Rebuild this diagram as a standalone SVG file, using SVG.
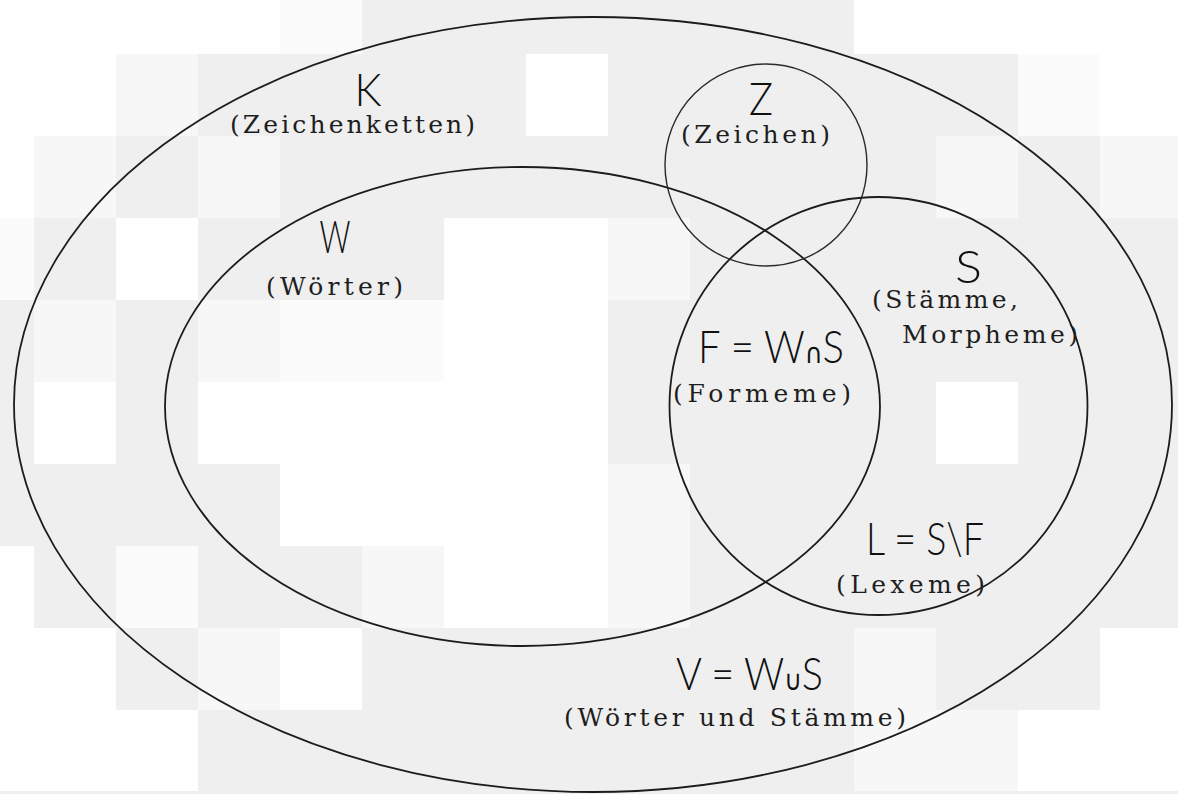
<svg xmlns="http://www.w3.org/2000/svg" width="1178" height="794" viewBox="0 0 1178 794">
<style>
.g{fill:#efefef}.l{fill:#f7f7f7}.v{fill:#fbfbfb}
.set{fill:none;stroke:#1c1c1c;stroke-width:1.8}
.zc{fill:none;stroke:#2a2a2a;stroke-width:1.4}
.big{font-family:"Lato","Liberation Sans",Arial,sans-serif;font-weight:300;font-size:46px;fill:#111111}
.op{font-family:"DejaVu Sans",sans-serif;font-weight:normal;font-size:28px}
.sub{font-family:"DejaVu Serif","Liberation Serif",serif;font-size:25px;fill:#1e1e1e}
</style>
<g id="background">
<rect x="0" y="0" width="1178" height="794" fill="#ffffff"/>
<rect class="v" x="280" y="0" width="82" height="54"/><rect class="g" x="362" y="0" width="492" height="54"/>
<rect class="l" x="116" y="54" width="82" height="82"/><rect class="g" x="198" y="54" width="328" height="82"/><rect class="g" x="608" y="54" width="410" height="82"/><rect class="v" x="1018" y="54" width="82" height="82"/>
<rect class="l" x="34" y="136" width="82" height="82"/><rect class="g" x="116" y="136" width="82" height="82"/><rect class="l" x="198" y="136" width="82" height="82"/><rect class="g" x="280" y="136" width="656" height="82"/><rect class="l" x="936" y="136" width="82" height="82"/><rect class="g" x="1018" y="136" width="82" height="82"/><rect class="l" x="1100" y="136" width="78" height="82"/>
<rect class="v" x="0" y="218" width="34" height="82"/><rect class="g" x="34" y="218" width="82" height="82"/><rect class="g" x="198" y="218" width="246" height="82"/><rect class="l" x="608" y="218" width="82" height="82"/><rect class="g" x="690" y="218" width="488" height="82"/>
<rect class="g" x="0" y="300" width="34" height="82"/><rect class="l" x="34" y="300" width="82" height="82"/><rect class="g" x="116" y="300" width="82" height="82"/><rect class="l" x="198" y="300" width="82" height="82"/><rect class="v" x="280" y="300" width="164" height="82"/><rect class="g" x="608" y="300" width="570" height="82"/>
<rect class="g" x="0" y="382" width="34" height="82"/><rect class="g" x="116" y="382" width="82" height="82"/><rect class="g" x="608" y="382" width="328" height="82"/><rect class="g" x="1018" y="382" width="160" height="82"/>
<rect class="g" x="0" y="464" width="280" height="82"/><rect class="l" x="608" y="464" width="82" height="82"/><rect class="g" x="690" y="464" width="488" height="82"/>
<rect class="g" x="34" y="546" width="82" height="82"/><rect class="v" x="116" y="546" width="82" height="82"/><rect class="g" x="198" y="546" width="164" height="82"/><rect class="l" x="362" y="546" width="82" height="82"/><rect class="l" x="608" y="546" width="82" height="82"/><rect class="g" x="690" y="546" width="488" height="82"/>
<rect class="g" x="116" y="628" width="82" height="82"/><rect class="l" x="198" y="628" width="82" height="82"/><rect class="g" x="362" y="628" width="492" height="82"/><rect class="l" x="854" y="628" width="82" height="82"/><rect class="g" x="936" y="628" width="164" height="82"/>
<rect class="g" x="198" y="710" width="656" height="81"/><rect class="l" x="854" y="710" width="164" height="81"/>
<rect class="g" x="0" y="791" width="1178" height="3"/>
</g>
<g id="connectors"/>
<g id="K">
<ellipse class="set" cx="593" cy="404.5" rx="579" ry="387.5"/>
<text class="big" x="368" y="106" text-anchor="middle" textLength="27" lengthAdjust="spacingAndGlyphs">K</text>
<text class="sub" x="230" y="133" textLength="245" lengthAdjust="spacing">(Zeichenketten)</text>
</g>
<g id="W">
<ellipse class="set" cx="522.5" cy="406.5" rx="357.5" ry="239.5"/>
<text class="big" x="335" y="253" text-anchor="middle" textLength="31" lengthAdjust="spacingAndGlyphs">W</text>
<text class="sub" x="266" y="295" textLength="137" lengthAdjust="spacing">(Wörter)</text>
</g>
<g id="Z">
<circle class="zc" cx="766" cy="165" r="101"/>
<text class="big" x="761" y="115" text-anchor="middle" textLength="24" lengthAdjust="spacingAndGlyphs">Z</text>
<text class="sub" x="681" y="143" textLength="149" lengthAdjust="spacing">(Zeichen)</text>
</g>
<g id="S">
<circle class="set" cx="878.5" cy="406" r="209"/>
<text class="big" x="968.5" y="283" text-anchor="middle" textLength="27" lengthAdjust="spacingAndGlyphs">S</text>
<text class="sub" x="872" y="308" textLength="146" lengthAdjust="spacing">(Stämme,</text>
<text class="sub" x="902" y="343" textLength="176" lengthAdjust="spacing">Morpheme)</text>
</g>
<g id="F">
<text class="big" x="698" y="363" textLength="146" lengthAdjust="spacingAndGlyphs">F = W<tspan class="op">∩</tspan>S</text>
<text class="sub" x="673" y="402" textLength="178" lengthAdjust="spacing">(Formeme)</text>
</g>
<g id="L">
<text class="big" x="866" y="555" textLength="118" lengthAdjust="spacingAndGlyphs">L = S\F</text>
<text class="sub" x="836" y="593" textLength="149" lengthAdjust="spacing">(Lexeme)</text>
</g>
<g id="V">
<text class="big" x="676" y="690" textLength="147" lengthAdjust="spacingAndGlyphs">V = W<tspan class="op">∪</tspan>S</text>
<text class="sub" x="564" y="726" textLength="342" lengthAdjust="spacing">(Wörter und Stämme)</text>
</g>
</svg>
